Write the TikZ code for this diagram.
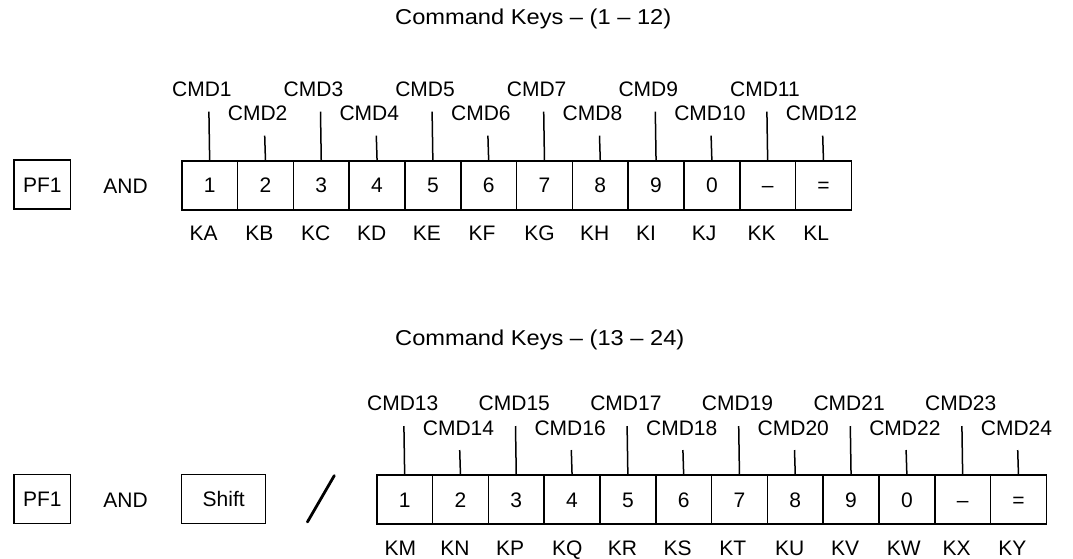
\documentclass[tikz,border=0pt]{standalone}
\usepackage{fontspec}
\setmainfont{Liberation Sans}
\newfontfamily\headfont[FakeStretch=1.1]{Liberation Sans}
\begin{document}
\begin{tikzpicture}[x=1pt,y=-1pt,
  lbl/.style={inner sep=0pt, font=\fontsize{21}{25}\selectfont},
  ttl/.style={inner sep=0pt, anchor=base west, font=\headfont\fontsize{21.5}{26}\selectfont},
  keybox/.style={draw, line width=1.5pt, minimum width=55.8pt, minimum height=49pt,
    inner sep=0pt, text height=15pt, text depth=0pt, anchor=north west,
    font=\fontsize{21}{25}\selectfont},
  sidebox/.style={draw, line width=1.5pt, minimum height=49pt, inner sep=0pt,
    text height=15pt, text depth=0pt, font=\fontsize{21}{25}\selectfont},
  cmdtick/.style={line width=1.5pt},
  slash/.style={line width=2.8pt, line cap=round}]
\useasboundingbox (0,0) rectangle (1073,558);

% headings
\node[ttl] (title1) at (395,24.3) {Command Keys – (1 – 12)};
\node[ttl] (title2) at (395,345) {Command Keys – (13 – 24)};

% left-hand key combinations
\node[sidebox, minimum width=56.7pt] (pfa) at (42.3,184.5) {PF1};
\node[lbl, anchor=base] (anda) at (125.5,193.3) {AND};
\node[sidebox, minimum width=56.7pt] (pfb) at (42.3,498.8) {PF1};
\node[lbl, anchor=base] (andb) at (125.5,507.6) {AND};
\node[sidebox, minimum width=84pt] (shift) at (223.7,498.8) {Shift};
\coordinate (slt) at (334.3,475.6);
\coordinate (slb) at (307.4,522.0);
\draw[slash] (slt) -- (slb);

% key rows with command labels above and key codes below
\foreach \row/\xo/\yo/\base/\pairs in {
    a/181/0/0/{1/A,2/B,3/C,4/D,5/E,6/F,7/G,8/H,9/I,0/J,–/K,=/L},
    b/376/314.3/12/{1/M,2/N,3/P,4/Q,5/R,6/S,7/T,8/U,9/V,0/W,–/X,=/Y}} {
  \foreach \k/\l [count=\i] in \pairs {
    \pgfmathsetmacro\kx{\xo+(\i-1)*55.8}
    \pgfmathsetmacro\kc{\kx+27.9}
    \pgfmathtruncatemacro\cmd{\base+\i}
    \ifodd\i \def\ty{111.7}\def\lb{96}\else \def\ty{135.7}\def\lb{120.7}\fi
    \node[keybox] (k\row\i) at (\kx,160+\yo) {\k};
    \coordinate (t\row\i) at (\kc,\ty+\yo);
    \draw[cmdtick] (t\row\i) -- (k\row\i.north);
    \node[lbl, anchor=base west] (c\row\i) at (\kc-37,\lb+\yo) {CMD\cmd};
    \node[lbl, anchor=base west] (n\row\i) at (\kc-19.5,240.7+\yo) {K\l};
  }
}
\end{tikzpicture}
\end{document}
